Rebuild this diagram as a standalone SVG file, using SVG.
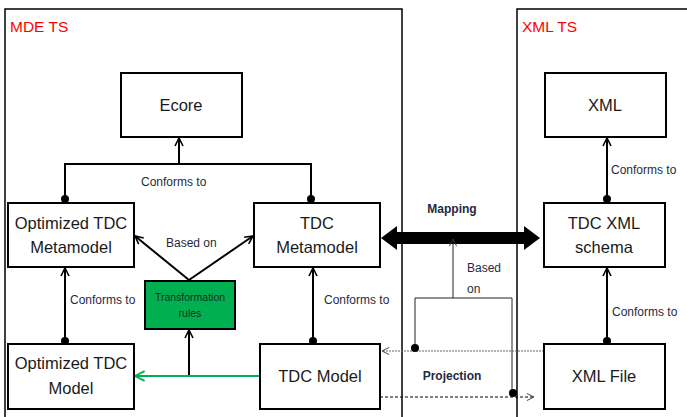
<svg xmlns="http://www.w3.org/2000/svg" width="687" height="417" viewBox="0 0 687 417">
<defs>
<style>
.ts{fill:none;stroke:#000;stroke-width:1.5}
.box{fill:#fff;stroke:#000;stroke-width:2}
.nt{font-family:"Liberation Sans",Arial,sans-serif;font-size:16.5px;fill:#1a1a1a;text-anchor:middle}
.lbl{font-family:"Liberation Sans",Arial,sans-serif;font-size:12px;fill:#1f2a44}
.bold{font-family:"Liberation Sans",Arial,sans-serif;font-size:12px;font-weight:bold;fill:#1f2a44;text-anchor:middle}
.red{font-family:"Liberation Sans",Arial,sans-serif;font-size:15.5px;fill:#ff0000}
.c{fill:none;stroke:#000;stroke-width:2}
.thin{fill:none;stroke:#222;stroke-width:1}
.dot{fill:#000}
</style>
<marker id="ah" viewBox="0 0 10 10" refX="9" refY="5" markerWidth="10" markerHeight="10" markerUnits="userSpaceOnUse" orient="auto">
<path d="M1 1 L9 5 L1 9" fill="none" stroke="#000" stroke-width="1.6"/>
</marker>
<marker id="ahg" viewBox="0 0 10 10" refX="9" refY="5" markerWidth="12" markerHeight="12" markerUnits="userSpaceOnUse" orient="auto">
<path d="M1 1 L9 5 L1 9" fill="none" stroke="#00b050" stroke-width="1.6"/>
</marker>
<marker id="aht" viewBox="0 0 10 10" refX="9" refY="5" markerWidth="9" markerHeight="9" markerUnits="userSpaceOnUse" orient="auto">
<path d="M1 1 L9 5 L1 9" fill="none" stroke="#333" stroke-width="1"/>
</marker>
</defs>
<rect width="687" height="417" fill="#fff"/>
<g id="mde-ts">
<rect class="ts" x="5" y="9" width="397" height="430"/>
<text class="red" x="10" y="32">MDE TS</text>
</g>
<g id="xml-ts">
<rect class="ts" x="517" y="9" width="200" height="430"/>
<text class="red" x="522" y="32">XML TS</text>
</g>
<g id="connectors">
<path class="c" d="M65 199 V164 H311 V199"/>
<path class="c" d="M179 164 V138" marker-end="url(#ah)"/>
<path class="c" d="M65 341 V268" marker-end="url(#ah)"/>
<path class="c" d="M313 341 V268" marker-end="url(#ah)"/>
<path class="c" d="M189 280 L135 236" marker-end="url(#ah)"/>
<path class="c" d="M189 280 L253 236" marker-end="url(#ah)"/>
<path class="c" d="M189 376 V330" marker-end="url(#ah)"/>
<path d="M260 376 H135" fill="none" stroke="#00b050" stroke-width="2" marker-end="url(#ahg)"/>
<polygon points="381,238 397,226 397,232 524,232 524,226 540,238 524,250 524,244 397,244 397,250" fill="#000"/>
<path class="thin" d="M453 298 V239" marker-end="url(#aht)"/>
<path class="thin" d="M415 348 V298 H512 V392"/>
<path d="M544 351 H382" fill="none" stroke="#666" stroke-width="1.2" stroke-dasharray="2 1" marker-end="url(#aht)"/>
<path d="M380 397 H534" fill="none" stroke="#000" stroke-width="1" stroke-dasharray="3 2" marker-end="url(#aht)"/>
<path class="c" d="M607 199 V138" marker-end="url(#ah)"/>
<path class="c" d="M607 341 V268" marker-end="url(#ah)"/>
<circle class="dot" cx="65" cy="199" r="4"/>
<circle class="dot" cx="311" cy="199" r="4"/>
<circle class="dot" cx="65" cy="341" r="4"/>
<circle class="dot" cx="313" cy="341" r="4"/>
<circle class="dot" cx="607" cy="199" r="4"/>
<circle class="dot" cx="607" cy="341" r="4"/>
<circle class="dot" cx="415" cy="348" r="4"/>
<circle class="dot" cx="513" cy="393" r="4"/>
<text class="lbl" x="141" y="186">Conforms to</text>
<text class="lbl" x="70" y="304">Conforms to</text>
<text class="lbl" x="324" y="304">Conforms to</text>
<text class="lbl" x="166" y="247">Based on</text>
<text class="lbl" x="611" y="174">Conforms to</text>
<text class="lbl" x="612" y="316">Conforms to</text>
<text class="lbl" x="467" y="272">Based</text>
<text class="lbl" x="467" y="293">on</text>
<text class="bold" x="452" y="213">Mapping</text>
<text class="bold" x="452" y="380">Projection</text>
</g>
<g id="ecore">
<rect class="box" x="121" y="73" width="121" height="64"/>
<text class="nt" x="181" y="111">Ecore</text>
</g>
<g id="opt-metamodel">
<rect class="box" x="8" y="203" width="126" height="64"/>
<text class="nt" x="71" y="229">Optimized TDC</text>
<text class="nt" x="71" y="253">Metamodel</text>
</g>
<g id="tdc-metamodel">
<rect class="box" x="254" y="203" width="126" height="64"/>
<text class="nt" x="317" y="229">TDC</text>
<text class="nt" x="317" y="253">Metamodel</text>
</g>
<g id="transformation-rules">
<rect x="145" y="281" width="90" height="48" fill="#00b050" stroke="#000" stroke-width="2"/>
<text x="190" y="301" font-family="'Liberation Sans',Arial,sans-serif" font-size="10.5" fill="#10301c" text-anchor="middle">Transformation</text>
<text x="190" y="317" font-family="'Liberation Sans',Arial,sans-serif" font-size="10.5" fill="#10301c" text-anchor="middle">rules</text>
</g>
<g id="opt-model">
<rect class="box" x="8" y="344" width="126" height="65"/>
<text class="nt" x="71" y="369">Optimized TDC</text>
<text class="nt" x="71" y="394">Model</text>
</g>
<g id="tdc-model">
<rect class="box" x="260" y="344" width="120" height="65"/>
<text class="nt" x="320" y="382">TDC Model</text>
</g>
<g id="xml">
<rect class="box" x="545" y="73" width="121" height="64"/>
<text class="nt" x="605" y="111">XML</text>
</g>
<g id="tdc-xml-schema">
<rect class="box" x="544" y="203" width="121" height="64"/>
<text class="nt" x="604" y="229">TDC XML</text>
<text class="nt" x="604" y="253">schema</text>
</g>
<g id="xml-file">
<rect class="box" x="544" y="344" width="121" height="65"/>
<text class="nt" x="604" y="382">XML File</text>
</g>
</svg>
